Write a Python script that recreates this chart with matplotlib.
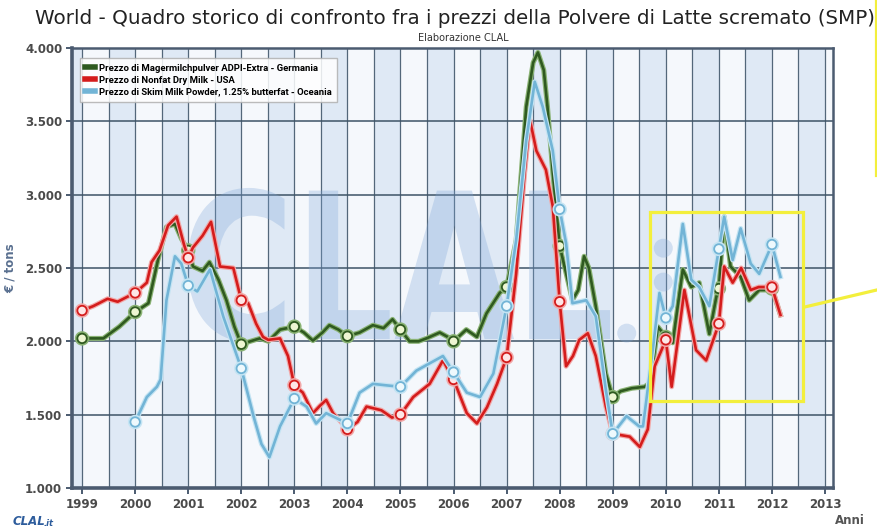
import matplotlib
matplotlib.use('Agg')
import matplotlib.pyplot as plt
import matplotlib.patheffects as pe
from matplotlib.lines import Line2D
from matplotlib.patches import Rectangle, PathPatch, Ellipse
from matplotlib.textpath import TextPath
from matplotlib.font_manager import FontProperties
from matplotlib.transforms import Affine2D

# prezzi in euro / tonnellata (anno decimale, valore)
de_x = [1999.0, 1999.4, 1999.7, 2000.0, 2000.25, 2000.43, 2000.59, 2000.75, 2000.87, 2001.0,
        2001.09, 2001.27, 2001.4, 2001.57, 2001.72, 2001.87, 2002.0, 2002.17, 2002.35, 2002.51,
        2002.73, 2003.0, 2003.18, 2003.35, 2003.53, 2003.66, 2003.83, 2004.0, 2004.23, 2004.48,
        2004.68, 2004.85, 2005.0, 2005.17, 2005.34, 2005.49, 2005.74, 2005.89, 2006.0, 2006.24,
        2006.44, 2006.62, 2006.87, 2007.0, 2007.18, 2007.37, 2007.5, 2007.59, 2007.7, 2007.77,
        2007.87, 2008.0, 2008.24, 2008.35, 2008.46, 2008.55, 2008.68, 2008.87, 2009.0, 2009.15,
        2009.36, 2009.6, 2009.71, 2009.85, 2010.0, 2010.13, 2010.32, 2010.48, 2010.63, 2010.82,
        2010.95, 2011.0, 2011.1, 2011.22, 2011.41, 2011.57, 2011.76, 2011.93, 2012.0, 2012.16]
de_y = [2020, 2020, 2100, 2200, 2260, 2555, 2780, 2800, 2700, 2620,
        2510, 2480, 2540, 2420, 2280, 2100, 1980, 2000, 2020, 2000,
        2080, 2100, 2060, 2005, 2060, 2110, 2080, 2035, 2060, 2110,
        2090, 2150, 2080, 2000, 2000, 2020, 2060, 2030, 2000, 2080,
        2030, 2190, 2330, 2370, 2690, 3600, 3900, 3970, 3850, 3600,
        3150, 2650, 2280, 2350, 2580, 2500, 2240, 1780, 1620, 1660,
        1680, 1690, 1720, 2100, 2030, 1990, 2490, 2370, 2400, 2050,
        2300, 2360, 2850, 2510, 2440, 2280, 2350, 2350, 2360, 2180]

us_x = [1999.0, 1999.21, 1999.32, 1999.48, 1999.67, 1999.86, 2000.0, 2000.22, 2000.31, 2000.46,
        2000.62, 2000.78, 2000.92, 2001.0, 2001.09, 2001.27, 2001.43, 2001.6, 2001.85, 2002.0,
        2002.13, 2002.28, 2002.41, 2002.51, 2002.73, 2002.88, 2003.0, 2003.16, 2003.35, 2003.48,
        2003.6, 2003.73, 2003.88, 2004.0, 2004.19, 2004.36, 2004.64, 2004.84, 2005.0, 2005.24,
        2005.55, 2005.8, 2006.0, 2006.25, 2006.44, 2006.63, 2006.82, 2007.0, 2007.18, 2007.34,
        2007.44, 2007.56, 2007.74, 2007.87, 2008.0, 2008.12, 2008.25, 2008.37, 2008.53, 2008.68,
        2008.87, 2009.0, 2009.32, 2009.51, 2009.66, 2009.79, 2010.0, 2010.11, 2010.35, 2010.57,
        2010.76, 2011.0, 2011.1, 2011.26, 2011.42, 2011.6, 2011.75, 2012.0, 2012.16]
us_y = [2210, 2240, 2260, 2290, 2270, 2305, 2330, 2400, 2540, 2620,
        2790, 2850, 2660, 2570, 2640, 2720, 2815, 2510, 2500, 2280,
        2260, 2120, 2030, 2010, 2020, 1900, 1700, 1650, 1510, 1560,
        1600, 1510, 1450, 1400, 1450, 1555, 1530, 1480, 1500, 1620,
        1710, 1870, 1740, 1510, 1440, 1550, 1710, 1890, 2460, 3150,
        3510, 3300, 3170, 2920, 2270, 1830, 1900, 2010, 2055, 1900,
        1555, 1370, 1350, 1280, 1400, 1830, 2010, 1690, 2350, 1940,
        1870, 2120, 2510, 2400, 2500, 2350, 2370, 2370, 2180]

oc_x = [2000.0, 2000.22, 2000.41, 2000.48, 2000.59, 2000.75, 2000.87, 2001.0, 2001.17, 2001.41,
        2001.66, 2002.0, 2002.23, 2002.38, 2002.53, 2002.73, 2003.0, 2003.23, 2003.41, 2003.6,
        2003.83, 2004.0, 2004.23, 2004.48, 2004.73, 2005.0, 2005.3, 2005.55, 2005.8, 2006.0,
        2006.25, 2006.5, 2006.75, 2007.0, 2007.18, 2007.37, 2007.53, 2007.68, 2007.87, 2008.0,
        2008.12, 2008.24, 2008.5, 2008.68, 2008.87, 2009.0, 2009.26, 2009.5, 2009.57, 2009.76,
        2009.88, 2010.0, 2010.13, 2010.32, 2010.48, 2010.63, 2010.82, 2011.0, 2011.1, 2011.26,
        2011.41, 2011.6, 2011.76, 2012.0, 2012.16]
oc_y = [1450, 1620, 1690, 1740, 2280, 2580, 2530, 2380, 2340, 2490,
        2170, 1815, 1490, 1300, 1210, 1420, 1610, 1555, 1440, 1510,
        1470, 1440, 1650, 1710, 1700, 1690, 1800, 1850, 1900, 1790,
        1650, 1620, 1780, 2240, 2690, 3370, 3770, 3600, 3300, 2900,
        2670, 2260, 2280, 2170, 1670, 1370, 1490, 1420, 1420, 1960,
        2330, 2160, 2240, 2800, 2420, 2370, 2240, 2630, 2850, 2555,
        2770, 2530, 2460, 2660, 2440]

series_labels = ['Prezzo di Magermilchpulver ADPI-Extra - Germania',
                 'Prezzo di Nonfat Dry Milk - USA',
                 'Prezzo di Skim Milk Powder, 1.25% butterfat - Oceania']
line_colors = ['#2f5a20', '#d41c1c', '#72b4d6']
halo_colors = ['#8ab374', '#f2a8a8', '#c4e4f3']
marker_fill = ['#eef6d2', '#fde6e6', '#eef9fd']

year_ticks = list(range(1999, 2014))
value_ticks = [1000, 1500, 2000, 2500, 3000, 3500, 4000]

fig = plt.figure(figsize=(8.77, 5.31), dpi=100)
ax = fig.add_axes([0.0821, 0.081, 0.8677, 0.8286])
ax.set_facecolor('#f5f8fc')
ax.set_xlim(1998.81, 2013.15)
ax.set_ylim(1000, 4000)

# bande alternate di mezzo anno
for y in range(1998, 2014):
    ax.axvspan(y + 0.5, y + 1.0, color='#dfe9f5', zorder=0, lw=0)

for y in year_ticks:
    ax.axvline(y, color='#53677a', lw=0.9, zorder=1)
    ax.axvline(y + 0.5, color='#53677a', lw=0.9, zorder=1)
for v in value_ticks[1:-1]:
    ax.axhline(v, color='#3e5366', lw=1.1, zorder=1)

# filigrana CLAL
wm_col = '#7ea6d8'
tp = TextPath((0, 0), 'CLAL', size=1, prop=FontProperties(family='DejaVu Sans', weight='bold'))
ext = tp.get_extents()
bx0, bx1, by0, by1 = 0.152, 0.707, 0.332, 0.682
tr = Affine2D().translate(-ext.x0, -ext.y0).scale((bx1 - bx0) / ext.width, (by1 - by0) / ext.height).translate(bx0, by0)
ax.add_patch(PathPatch(tr.transform_path(tp), transform=ax.transAxes, facecolor=wm_col,
                       edgecolor='none', alpha=0.3, zorder=1.5))
for cx, cy in [(0.777, 0.545), (0.777, 0.468), (0.729, 0.352)]:
    ax.add_patch(Ellipse((cx, cy), 0.025, 0.043, transform=ax.transAxes, facecolor=wm_col,
                         edgecolor='none', alpha=0.3, zorder=1.5))

all_x = [de_x, oc_x, us_x]
all_y = [de_y, oc_y, us_y]
order = [0, 2, 1]
for k, (xs, ys) in zip(order, zip(all_x, all_y)):
    marks = [i for i, x in enumerate(xs) if float(x).is_integer()]
    ax.plot(xs, ys, color=line_colors[k], lw=1.9, solid_joinstyle='round', zorder=3 + k,
            marker='o', markevery=marks, markersize=6.8, markerfacecolor=marker_fill[k],
            markeredgecolor=line_colors[k], markeredgewidth=1.3,
            path_effects=[pe.Stroke(linewidth=3.6, foreground=halo_colors[k]), pe.Normal()])

# riquadro giallo evidenziato
ax.add_patch(Rectangle((2009.70, 1596), 2012.59 - 2009.70, 2884 - 1596, fill=False,
                       edgecolor='#f3ef3c', lw=2.3, zorder=10, clip_on=False))
fig.add_artist(Line2D([0.918, 1.0], [0.422, 0.454], color='#f3ef3c', lw=2.3))
fig.add_artist(Line2D([0.9994, 0.9994], [1.0, 0.670], color='#f3ef3c', lw=2.3))

spine_col = '#4b5b70'
for s in ['left', 'bottom']:
    ax.spines[s].set_linewidth(2.6)
    ax.spines[s].set_color(spine_col)
for s in ['top', 'right']:
    ax.spines[s].set_linewidth(1.8)
    ax.spines[s].set_color(spine_col)

ax.set_xticks(year_ticks)
ax.set_xticklabels([str(y) for y in year_ticks])
ax.set_yticks(value_ticks)
ax.set_yticklabels([f'{v:,}'.replace(',', '.') for v in value_ticks])
ax.tick_params(axis='both', colors=spine_col, length=4, width=1.4, labelsize=8.5,
               labelcolor='#4a4a4a', pad=3)
for lab in ax.get_xticklabels() + ax.get_yticklabels():
    lab.set_fontweight('bold')

ax.set_ylabel('€ / tons', fontsize=8.5, fontweight='bold', color='#5a7090', labelpad=6)

handles = [Line2D([], [], color=c, lw=4) for c in line_colors]
leg = ax.legend(handles, series_labels, loc='upper left', bbox_to_anchor=(0.004, 0.988),
                prop=FontProperties(family='Roboto', weight='bold', size=6.8),
                handlelength=1.0, handletextpad=0.4, labelspacing=0.3, borderpad=0.6,
                frameon=True, fancybox=False, framealpha=0.85, edgecolor='#b0b0b0')
leg.get_frame().set_linewidth(1.0)
leg.set_zorder(20)

fig.text(0.519, 0.966, 'World - Quadro storico di confronto fra i prezzi della Polvere di Latte scremato (SMP)',
         ha='center', va='center', fontsize=14.3, color='#222222')
fig.text(0.528, 0.928, 'Elaborazione CLAL', ha='center', va='center', fontsize=7, color='#333333')
fig.text(0.969, 0.019, 'Anni', ha='center', va='center', fontsize=8.5, fontweight='bold', color='#555555')
fig.text(0.014, 0.017, 'CLAL', ha='left', va='center', fontsize=8.5, fontweight='bold',
         style='italic', color='#2d5c9c')
fig.text(0.05, 0.015, '.it', ha='left', va='center', fontsize=6, fontweight='bold',
         style='italic', color='#2d5c9c')

fig.savefig('out.png', dpi=100)
